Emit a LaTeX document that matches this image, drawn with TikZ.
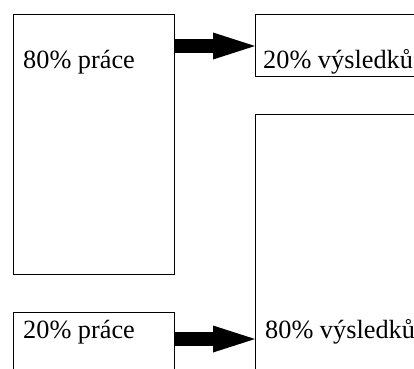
\documentclass[tikz,border=0pt]{standalone}
\usepackage{fontspec}
\setmainfont{Liberation Serif}
\usetikzlibrary{arrows.meta}
\begin{document}
\begin{tikzpicture}[x=1pt,y=-1pt,
  box/.style={draw,line width=1.4pt,rectangle,inner sep=0pt,anchor=north west},
  lbl/.style={anchor=base west,inner sep=0pt,font=\fontsize{26.3}{30}\selectfont},
  bigarrow/.style={line width=14pt,-{Triangle[length=42pt,width=27pt,line width=0pt]},shorten <=-0.7pt}]
\useasboundingbox (0,0) rectangle (414,368);
\clip (0,0) rectangle (414,368);
\node[box,minimum width=161pt,minimum height=260pt] (p80) at (13,14) {};
\node[box,minimum width=161pt,minimum height=110pt] (p20) at (13,312) {};
\node[box,minimum width=190pt,minimum height=62pt] (v20) at (255,14) {};
\node[box,minimum width=190pt,minimum height=300pt] (v80) at (255,114) {};
\node[lbl] (t1) at (23,68) {80\% práce};
\node[lbl] (t2) at (263,68) {20\% výsledků};
\node[lbl] (t3) at (23,338) {20\% práce};
\node[lbl] (t4) at (265,338) {80\% výsledků};
\coordinate (a1s) at (174,46);
\coordinate (a2s) at (174,339);
\draw[bigarrow] (p80.east |- a1s) -- (v20.west |- a1s);
\draw[bigarrow] (p20.east |- a2s) -- (v80.west |- a2s);
\end{tikzpicture}
\end{document}
